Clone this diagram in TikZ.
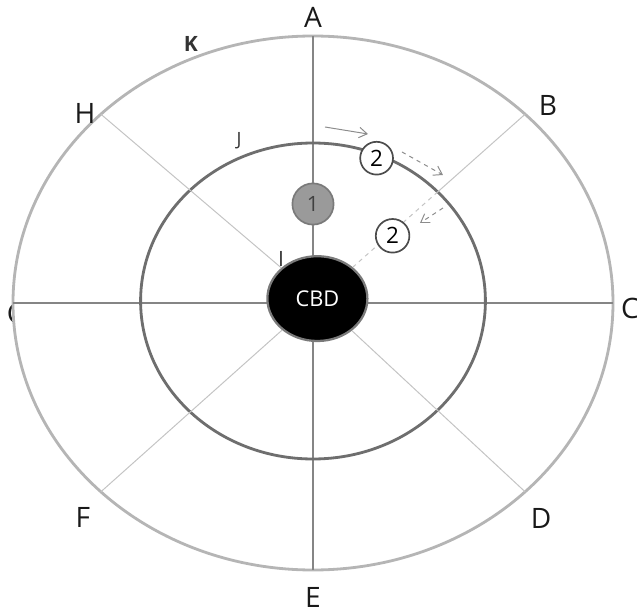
\documentclass[tikz,border=0pt]{standalone}
\usepackage{fontspec}
\setmainfont{Open Sans}
\setsansfont{Open Sans}
\usetikzlibrary{arrows.meta, positioning, shapes.geometric, calc}
\definecolor{cring}{HTML}{B5B5B5}
\definecolor{cinner}{HTML}{6E6E6E}
\definecolor{caxis}{HTML}{858585}
\definecolor{cspoke}{HTML}{C4C4C4}
\definecolor{csite}{HTML}{9A9A9A}
\definecolor{cedge}{HTML}{7A7A7A}
\definecolor{cflow}{HTML}{8C8C8C}
\tikzset{
  every picture/.style={font=\sffamily, line width=1pt},
  ring/.style={draw=#1, line width=2pt},
  ring/.default=cring,
  axis/.style={draw=caxis, line width=1pt},
  spoke/.style={draw=cspoke, line width=0.7pt},
  flow/.style={-{Straight Barb[length=2mm, width=2.6mm]}, draw=cflow, line width=0.7pt},
  lab/.style={font=\sffamily\fontsize{20}{24}\selectfont, text=black!90, inner sep=0pt},
  tag/.style={font=\sffamily\fontsize{13}{15}\selectfont, text=black!80, inner sep=0pt},
}
\begin{document}
\begin{tikzpicture}[hub/.style={ellipse, fill=black, draw=cedge, line width=1.6pt, inner sep=0pt,
    minimum width=2.5cm, minimum height=2.12cm, text=white, font=\sffamily\fontsize{15.5}{17}\selectfont},
  site/.style={circle, draw=#1, line width=1.2pt, inner sep=0pt}]
  \useasboundingbox (-7.825,-7.775) rectangle (8.1,7.575);
  % G sits under the white disc, only its left edge shows
  \node[lab] (lG) at (-7.4,-0.25) {G};
  \draw[ring, fill=white] (0,0) ellipse [x radius=7.5, y radius=6.675];
  \coordinate (a) at (0,6.675); \coordinate (e) at (0,-6.675);
  \coordinate (c) at (7.5,0);   \coordinate (g) at (-7.5,0);
  \foreach \n/\a in {b/45, h/135, f/225, d/315}
    \coordinate (\n) at (\a:7.5 and 6.675);
  \draw[axis] (a) -- (e);
  \draw[axis] (g) -- (c);
  \draw[ring=cinner] (0,0.05) ellipse [x radius=4.31, y radius=3.95];
  \node[hub] (cbd) at (0.11,0.11) {CBD};
  \coordinate (bj) at (3.12,2.78);
  \draw[spoke] (h) -- (cbd);
  \draw[spoke] (f) -- (cbd);
  \draw[spoke] (d) -- (cbd);
  \draw[spoke] (b) -- (bj);
  \draw[spoke, dashed] (bj) -- (cbd);
  \node[site=cedge, fill=csite, minimum size=1.03cm, text=black!75,
    font=\sffamily\fontsize{15}{17}\selectfont] (s1) at (0,2.475) {1};
  \node[site=black!70, fill=white, minimum size=0.82cm,
    font=\sffamily\fontsize{16}{18}\selectfont] (s2a) at (1.59,3.62) {2};
  \node[site=black!70, fill=white, minimum size=0.84cm,
    font=\sffamily\fontsize{16}{18}\selectfont] (s2b) at (1.99,1.68) {2};
  % movement of the firm
  \coordinate (m1) at (0.3,4.4);    \coordinate (m2) at (1.375,4.225);
  \coordinate (m3) at (2.225,3.775); \coordinate (m4) at (3.25,3.2);
  \coordinate (m5) at (3.25,2.375); \coordinate (m6) at (2.675,2.0);
  \draw[flow] (m1) -- (m2);
  \draw[flow, dashed] (m3) -- (m4);
  \draw[flow, dashed] (m5) -- (m6);
  \foreach \t/\x/\y in {A/0/7.15, B/5.875/4.95, C/7.925/-0.125, D/5.7/-5.375,
      E/0/-7.35, F/-5.75/-5.35, H/-5.7/4.75}
    \node[lab] (l\t) at (\x,\y) {\t};
  \node[tag, font=\sffamily\bfseries\fontsize{15}{17}\selectfont] (lK) at (-3.05,6.48) {K};
  \node[tag] (lJ) at (-1.85,4.06) {J};
  \node[tag, font=\sffamily\fontsize{15}{17}\selectfont] (lI) at (-0.8,1.1) {I};
\end{tikzpicture}
\end{document}
